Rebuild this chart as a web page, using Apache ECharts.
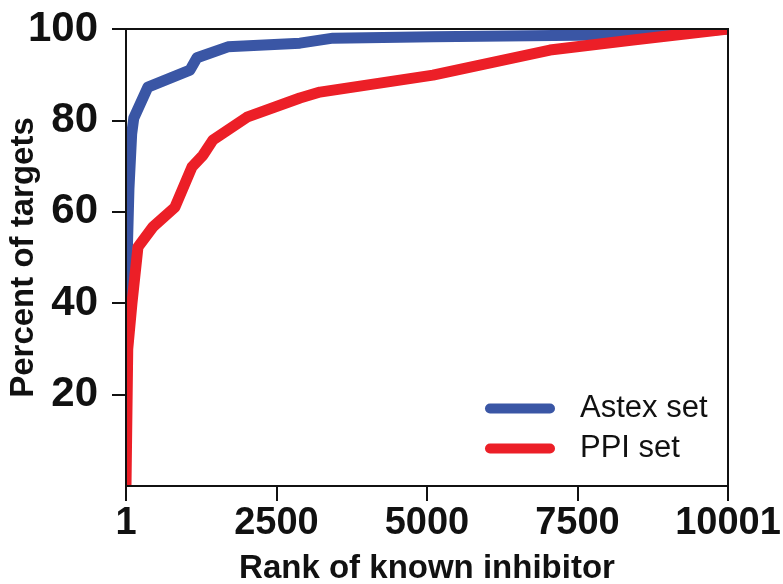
<!DOCTYPE html>
<html>
<head>
<meta charset="utf-8">
<script src="https://cdn.jsdelivr.net/npm/echarts@6/dist/echarts.min.js"></script>
<style>
  html, body { margin: 0; padding: 0; background: #fff; }
  #chart { width: 783px; height: 584px; }
</style>
</head>
<body>
<div id="chart"></div>
<script>
// rank of known inhibitor vs percent of targets
const astexRank = [1, 20, 50, 95, 130, 365, 1063, 1180, 1694, 2890, 3439, 5100, 7900, 9000, 10001];
const astexPct  = [30, 50, 65, 77, 80.5, 87.3, 91, 93.7, 96.1, 96.9, 98, 98.3, 98.7, 99.1, 100];

const ppiRank = [1, 30, 100, 200, 449, 814, 1096, 1280, 1445, 2010, 2890, 3223, 5100, 7043, 8422, 10001];
const ppiPct  = [0, 30, 40, 52.3, 56.7, 61, 69.8, 72.4, 75.7, 80.7, 84.9, 86.2, 89.9, 95.4, 97.6, 100];

const xTicks = [1, 2500, 5000, 7500, 10001];
const yTicks = [20, 40, 60, 80, 100];

const font = 'Liberation Sans, Arial, Helvetica, sans-serif';
const capsule = 'path://M5,0 H65 A5,5 0 0 1 65,10 H5 A5,5 0 0 1 5,0 Z';

function pairs(xs, ys) {
  return xs.map((x, i) => [x, ys[i]]);
}

const myChart = echarts.init(document.getElementById('chart'));

// white masks so the thick lines stop at the plot frame (echarts widens its clip by half a line)
const mask = (x, y, w, h) => ({
  type: 'rect', z: 5, silent: true,
  shape: { x: x, y: y, width: w, height: h },
  style: { fill: '#fff' }
});

const option = {
  animation: false,
  textStyle: { fontFamily: font },
  grid: {
    left: 126, right: 55, top: 29, bottom: 98,
    containLabel: false,
    outerBoundsMode: 'none',
    show: true, borderColor: '#111', borderWidth: 2,
    z: 6
  },
  graphic: [
    mask(110, 0, 16, 486),
    mask(126, 14, 610, 15),
    mask(728, 14, 12, 472)
  ],
  legend: {
    left: 485, top: 393, padding: 0,
    orient: 'vertical',
    itemWidth: 70, itemHeight: 10, itemGap: 9,
    icon: capsule,
    textStyle: { fontSize: 31, color: '#111', fontFamily: font, padding: [0, 0, 0, 20] },
    data: ['Astex set', 'PPI set']
  },
  xAxis: {
    type: 'value',
    min: 1, max: 10001,
    z: 7,
    name: 'Rank of known inhibitor',
    nameLocation: 'middle',
    nameGap: 66,
    nameMoveOverlap: false,
    nameTextStyle: { fontSize: 33, fontWeight: 'bold', color: '#111' },
    axisLine: { lineStyle: { color: '#111', width: 2 } },
    axisTick: { customValues: xTicks, length: 15, lineStyle: { color: '#111', width: 2 } },
    axisLabel: {
      customValues: xTicks, fontSize: 38, fontWeight: 'bold', color: '#111', margin: 19,
      formatter: (v) => String(v)
    },
    splitLine: { show: false }
  },
  yAxis: {
    type: 'value',
    min: 0, max: 100,
    z: 7,
    name: 'Percent of targets',
    nameLocation: 'middle',
    nameGap: 86,
    nameMoveOverlap: false,
    nameTextStyle: { fontSize: 33, fontWeight: 'bold', color: '#111' },
    axisLine: { lineStyle: { color: '#111', width: 2 } },
    axisTick: { customValues: yTicks, length: 14, lineStyle: { color: '#111', width: 2 } },
    axisLabel: {
      customValues: yTicks, fontSize: 42, fontWeight: 'bold', color: '#111', margin: 28,
      formatter: (v) => String(v)
    },
    splitLine: { show: false }
  },
  series: [
    {
      name: 'Astex set',
      type: 'line',
      data: pairs(astexRank, astexPct),
      showSymbol: false,
      color: '#3a56a5',
      lineStyle: { width: 11, join: 'round' }
    },
    {
      name: 'PPI set',
      type: 'line',
      data: pairs(ppiRank, ppiPct),
      showSymbol: false,
      color: '#ec1f27',
      lineStyle: { width: 11, join: 'round' }
    }
  ]
};

myChart.setOption(option);
</script>
</body>
</html>
